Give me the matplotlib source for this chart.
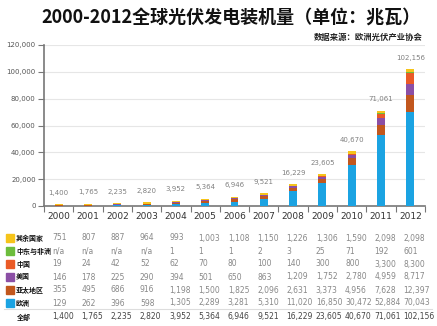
import numpy as np
import matplotlib.pyplot as plt
from matplotlib.patches import Rectangle

plt.rcParams['font.family'] = ['Noto Sans CJK SC', 'DejaVu Sans']

# ─── DATA ─────────────────────────────────────────────────────────────────────
YEARS = ["2000", "2001", "2002", "2003", "2004", "2005", "2006",
         "2007", "2008", "2009", "2010", "2011", "2012"]
europe = [129, 262, 396, 598, 1305, 2289, 3281, 5310, 11020, 16850, 30472, 52884, 70043]
apac = [355, 495, 686, 916, 1198, 1500, 1825, 2096, 2631, 3373, 4956, 7628, 12397]
usa = [146, 178, 225, 290, 394, 501, 650, 863, 1209, 1752, 2780, 4959, 8717]
china = [19, 24, 42, 52, 62, 70, 80, 100, 140, 300, 800, 3300, 8300]
mea = [None, None, None, None, 1, 1, 1, 2, 3, 25, 71, 192, 601]
rest = [751, 807, 887, 964, 993, 1003, 1108, 1150, 1226, 1306, 1590, 2098, 2098]
total = [1400, 1765, 2235, 2820, 3952, 5364, 6946, 9521, 16229, 23605, 40670, 71061, 102156]

# bottom -> top stacking order
SERIES = [("欧洲", europe, "#1ba3e2"),
          ("亚太地区", apac, "#c2571d"),
          ("美国", usa, "#8b4fa5"),
          ("中国", china, "#ea5a26"),
          ("中东与非洲", mea, "#6dbd3c"),
          ("其余国家", rest, "#f6c41a")]
# table order (top -> bottom)
TABLE_ORDER = ["其余国家", "中东与非洲", "中国", "美国", "亚太地区", "欧洲"]
# ──────────────────────────────────────────────────────────────────────────────

W, H = 437, 326
fig = plt.figure(figsize=(W / 100, H / 100), dpi=100)
L, R, B, T = 44, 425, 206, 45
ax = fig.add_axes([L / W, 1 - B / H, (R - L) / W, (B - T) / H])

x = np.arange(len(YEARS))
bottom = np.zeros(len(YEARS))
for name, vals, col in SERIES:
    v = np.array([0 if a is None else a for a in vals], dtype=float)
    ax.bar(x, v, bottom=bottom, width=0.27, color=col, linewidth=0, zorder=3)
    bottom += v

for xi, t in zip(x, total):
    ax.annotate(f"{t:,}", (xi, t), xytext=(0, 6), textcoords="offset points",
                ha="center", va="bottom", fontsize=5, color="#808080",
                family=["DejaVu Sans"])

ax.set_xlim(-0.5, len(YEARS) - 0.5)
ax.set_ylim(0, 120000)
ax.set_yticks(np.arange(0, 120001, 20000))
ax.set_yticklabels([f"{v:,}" for v in range(0, 120001, 20000)],
                   fontsize=5, color="#555555", family=["DejaVu Sans"])
ax.yaxis.grid(True, color="#e6e6e6", linewidth=0.8, zorder=0)
ax.set_xticks(x)
ax.set_xticklabels(YEARS, fontsize=6.5, color="#333333", family=["DejaVu Sans"])
ax.set_xticks(np.arange(-0.5, len(YEARS)), minor=True)
ax.tick_params(axis="x", which="major", length=0, pad=4)
ax.tick_params(axis="x", which="minor", length=4, color="#777777", width=0.8)
ax.tick_params(axis="y", length=4, color="#777777", width=0.8, pad=2)
for s in ["top", "right"]:
    ax.spines[s].set_visible(False)
for s in ["left", "bottom"]:
    ax.spines[s].set_color("#777777")
    ax.spines[s].set_linewidth(1.2)

# titles
fig.text(421 / W, 1 - 18 / H, "2000-2012全球光伏发电装机量（单位：兆瓦）",
         ha="right", va="center", fontsize=13, fontweight="bold", color="#111111")
fig.text(423 / W, 1 - 37 / H, "数据来源：欧洲光伏产业协会",
         ha="right", va="center", fontsize=6, fontweight="bold", color="#222222")

# data table under the chart
slot = (R - L) / len(YEARS)
colors = {n: c for n, _, c in SERIES}
data = {n: v for n, v, _ in SERIES}
row_y = [238, 251, 264, 277, 290, 303]
for yy, name in zip(row_y, TABLE_ORDER):
    fy = 1 - yy / H
    fig.patches.append(Rectangle((6 / W, fy - 4 / H), 8 / W, 8 / H,
                                 transform=fig.transFigure, color=colors[name]))
    fig.text(16 / W, fy, name, ha="left", va="center", fontsize=5,
             fontweight="bold", color="#111111")
    for i, v in enumerate(data[name]):
        s = "n/a" if v is None else f"{v:,}"
        fig.text((L + i * slot + 8) / W, fy, s, ha="left", va="center",
                 fontsize=5.5, color="#888888", family=["DejaVu Sans"])

fig.add_artist(plt.Line2D([4 / W, 432 / W], [1 - 309 / H] * 2,
                          color="#dddddd", linewidth=0.8))
fy = 1 - 317 / H
fig.text(17 / W, fy, "全部", ha="left", va="center", fontsize=5,
         fontweight="bold", color="#111111")
for i, t in enumerate(total):
    fig.text((L + i * slot + 8) / W, fy, f"{t:,}", ha="left", va="center",
             fontsize=5.5, color="#444444", family=["DejaVu Sans"])

fig.savefig("out.png", dpi=100)
